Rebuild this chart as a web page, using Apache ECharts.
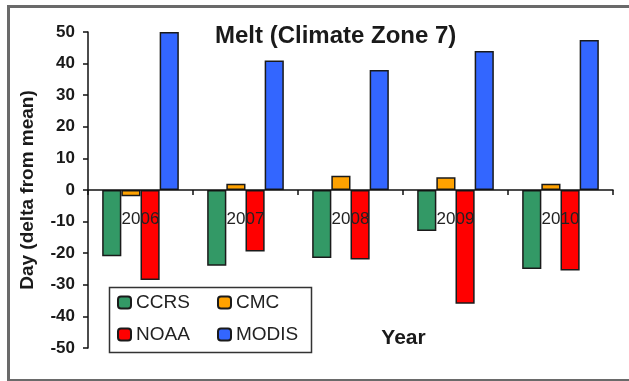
<!DOCTYPE html>
<html>
<head>
<meta charset="utf-8">
<script src="https://cdn.jsdelivr.net/npm/echarts@6/dist/echarts.min.js"></script>
<style>
html,body{margin:0;padding:0;background:#fff;}
#chart{width:629px;height:381px;}
</style>
</head>
<body>
<div id="chart"></div>
<script>
const years = ['2006', '2007', '2008', '2009', '2010'];
const ccrs  = [-21, -24, -21.5, -13, -25];
const cmc   = [-2, 2, 4.5, 4, 2];
const noaa  = [-28.5, -19.5, -22, -36, -25.5];
const modis = [50, 41, 38, 44, 47.5];
const yTicks = { min: -50, max: 50, interval: 10 };

const colors = { CCRS: '#339966', CMC: '#FFA200', NOAA: '#FF0000', MODIS: '#3366FF' };
const font = 'Liberation Sans, Arial, sans-serif';

function bar(name, data) {
  return {
    name: name, type: 'bar', data: data,
    barGap: '0%', barCategoryGap: '27%',
    itemStyle: { color: colors[name], borderColor: '#1a1a1a', borderWidth: 1.5 },
    z: 2
  };
}

const chart = echarts.init(document.getElementById('chart'), null, { renderer: 'canvas' });
chart.setOption({
  animation: false,
  backgroundColor: '#fff',
  title: {
    text: 'Melt (Climate Zone 7)',
    left: 215, top: 24, padding: 0,
    textStyle: { fontFamily: font, fontSize: 24, fontWeight: 'bold', color: '#1a1a1a' }
  },
  grid: { left: 88, right: 16, top: 32, bottom: 33, containLabel: false, outerBoundsMode: 'none' },
  legend: [
    {
      data: ['CCRS', 'NOAA'], orient: 'vertical', left: 117, top: 293,
      itemWidth: 13, itemHeight: 12, itemGap: 13, padding: 0,
      textStyle: { fontFamily: font, fontSize: 19, color: '#222' }
    },
    {
      data: ['CMC', 'MODIS'], orient: 'vertical', left: 217, top: 293,
      itemWidth: 13, itemHeight: 12, itemGap: 13, padding: 0,
      textStyle: { fontFamily: font, fontSize: 19, color: '#222' }
    }
  ],
  xAxis: {
    type: 'category', data: years,
    axisLine: { onZero: true, lineStyle: { color: '#111', width: 1.5 } },
    axisTick: { show: true, length: 5, inside: false, lineStyle: { color: '#111', width: 1.5 } },
    axisLabel: { margin: -137, fontFamily: font, fontSize: 17, color: '#222', z: 10 },
    name: 'Year', nameLocation: 'middle', nameGap: -20,
    nameTextStyle: { fontFamily: font, fontSize: 21, fontWeight: 'bold', color: '#1a1a1a', padding: [0, 0, 0, 106] },
    z: 5
  },
  yAxis: {
    type: 'value', min: yTicks.min, max: yTicks.max, interval: yTicks.interval,
    splitLine: { show: false },
    axisLine: { show: true, lineStyle: { color: '#111', width: 1.5 } },
    axisTick: { show: true, length: 5, lineStyle: { color: '#111', width: 1.5 } },
    axisLabel: { margin: 13, fontFamily: font, fontSize: 17, fontWeight: 'bold', color: '#1a1a1a' },
    name: 'Day (delta from mean)', nameLocation: 'middle', nameGap: 51,
    nameTextStyle: { fontFamily: font, fontSize: 19, fontWeight: 'bold', color: '#1a1a1a' }
  },
  graphic: [
    { type: 'rect', left: 6, top: 4, shape: { width: 640, height: 374 },
      style: { fill: 'none', stroke: '#6a6a6a', lineWidth: 3 }, silent: true, z: 0 },
    { type: 'rect', left: 107, top: 285, shape: { width: 202, height: 65 },
      style: { fill: 'none', stroke: '#333', lineWidth: 1.5 }, silent: true, z: 10 }
  ],
  series: [bar('CCRS', ccrs), bar('CMC', cmc), bar('NOAA', noaa), bar('MODIS', modis)]
});
</script>
</body>
</html>
